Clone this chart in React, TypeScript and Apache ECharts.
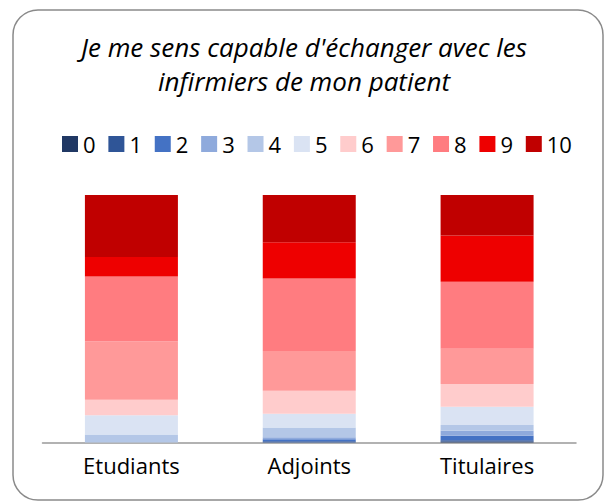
import React, { useEffect, useRef } from "react";
import * as echarts from "echarts";

const categories = ["Etudiants", "Adjoints", "Titulaires"];
const scores = ["0", "1", "2", "3", "4", "5", "6", "7", "8", "9", "10"];
const colors = ["#203864", "#2F5597", "#4472C4", "#8FAADC", "#B4C7E7", "#DAE3F3", "#FFCCCC", "#FF9999", "#FF7C80", "#EE0000", "#C00000"];
// percent of respondents per score, per category
const etudiants = [0, 0, 0, 0, 3.2, 7.8, 6.3, 23.5, 26.3, 7.8, 25.1];
const adjoints = [0, 0.5, 0.8, 0.8, 4.0, 5.5, 9.3, 16.1, 29.3, 14.6, 19.1];
const titulaires = [0.4, 0.5, 1.8, 2.0, 2.4, 7.3, 9.2, 14.3, 27.0, 18.7, 16.4];

const title = "Je me sens capable d'échanger avec les\ninfirmiers de mon patient";
const FONT = "Open Sans";

export default function App() {
  const ref = useRef<HTMLDivElement>(null);
  useEffect(() => {
    const chart = echarts.init(ref.current!, null, { renderer: "svg" });
    const series = scores.map((s, i) => ({
      name: s,
      type: "bar",
      stack: "total",
      barWidth: 93,
      data: [etudiants[i], adjoints[i], titulaires[i]],
      itemStyle: { color: colors[i] },
    }));
    chart.setOption({
      animation: false,
      textStyle: { fontFamily: FONT },
      title: {
        text: title,
        left: "center",
        top: 25,
        textStyle: { fontFamily: FONT, fontStyle: "italic", fontWeight: "normal", fontSize: 26, lineHeight: 34, color: "#000" },
      },
      legend: {
        data: scores,
        top: 128,
        left: 57,
        icon: "rect",
        itemWidth: 16,
        itemHeight: 16,
        itemGap: 12.8,
        textStyle: { fontFamily: FONT, fontSize: 22, color: "#000" },
      },
      grid: { left: 42.5, right: 32, top: 195, bottom: 60.5 },
      xAxis: {
        type: "category",
        data: categories,
        axisLine: { lineStyle: { color: "#999", width: 1.5 } },
        axisTick: { show: false },
        axisLabel: { fontFamily: FONT, fontSize: 22, color: "#000", margin: 11 },
      },
      yAxis: { type: "value", min: 0, max: 100, show: false, splitLine: { show: false } },
      graphic: [
        {
          type: "rect",
          shape: { x: 13, y: 10, width: 590, height: 490, r: 25 },
          style: { fill: "none", stroke: "#8a8a8a", lineWidth: 1.5 },
          silent: true,
        },
      ],
      series,
    });
    return () => chart.dispose();
  }, []);
  return (
    <div style={{ position: "fixed", left: 0, top: 0, width: 608, height: 503, background: "#fff" }}>
      <div ref={ref} style={{ width: 608, height: 503 }} />
    </div>
  );
}
